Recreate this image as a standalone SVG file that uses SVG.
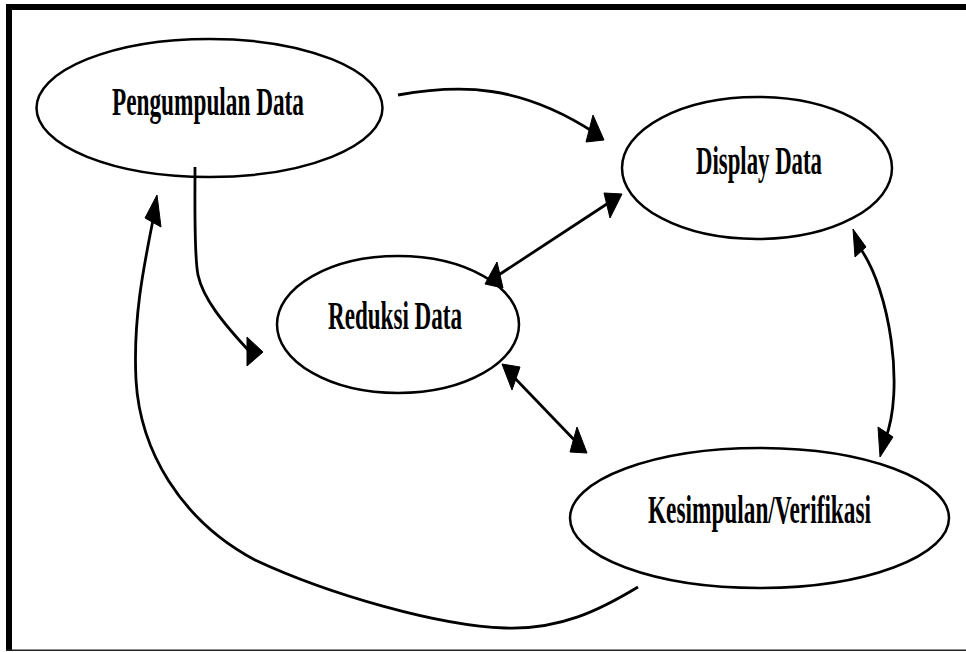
<svg xmlns="http://www.w3.org/2000/svg" width="966" height="652" viewBox="0 0 966 652">
<style>
.node ellipse{fill:#fff;stroke:#000;stroke-width:2.5}
.node text{font-family:"Liberation Serif","Times New Roman",serif;font-weight:bold;font-size:23px;fill:#000}
.conn path{fill:none;stroke:#000;stroke-width:2.8;stroke-linecap:butt}
.conn polygon{fill:#000;stroke:#000;stroke-width:1;stroke-linejoin:miter}
</style>
<rect x="0" y="0" width="966" height="652" fill="#fff"/>
<g id="frame">
<rect x="6" y="4" width="960" height="6" fill="#000"/>
<rect x="6" y="4" width="6" height="647" fill="#000"/>
<line x1="6" y1="650.3" x2="966" y2="650.3" stroke="#222" stroke-width="1.6"/>
</g>
<g id="pengumpulan" class="node">
<ellipse cx="209.5" cy="108" rx="173" ry="69"/>
<text transform="translate(112,115) scale(1,1.7)" x="0" y="0" textLength="192" lengthAdjust="spacingAndGlyphs">Pengumpulan Data</text>
</g>
<g id="display" class="node">
<ellipse cx="757" cy="168" rx="135" ry="71"/>
<text transform="translate(696,174) scale(1,1.7)" x="0" y="0" textLength="126" lengthAdjust="spacingAndGlyphs">Display Data</text>
</g>
<g id="reduksi" class="node">
<ellipse cx="398" cy="324.5" rx="121" ry="68.5"/>
<text transform="translate(328,329) scale(1,1.7)" x="0" y="0" textLength="134" lengthAdjust="spacingAndGlyphs">Reduksi Data</text>
</g>
<g id="kesimpulan" class="node">
<ellipse cx="759.5" cy="518" rx="189.5" ry="70"/>
<text transform="translate(648,523) scale(1,1.7)" x="0" y="0" textLength="223" lengthAdjust="spacingAndGlyphs">Kesimpulan/Verifikasi</text>
</g>
<g id="connectors" class="conn">
<path d="M398,95 C460,84 520,84 595,133"/>
<polygon points="593,115 586,142 604,140"/>
<path d="M195,167 C195,210 194,255 198,275 C203,298 222,322 250,352"/>
<polygon points="247,337 247,366 263,352"/>
<path d="M491,280 L616,198"/>
<polygon points="604,193 610,218 622,194"/>
<polygon points="497,262 485,284 503,288"/>
<path d="M507,370 L581,447"/>
<polygon points="502,364 520,367 512,390"/>
<polygon points="577,427 570,452 587,453"/>
<path d="M860,248 C890,290 905,390 885,440"/>
<polygon points="853,229 855,257 866,247"/>
<polygon points="878,427 893,437 880,457"/>
<path d="M638,587 C600,610 560,630 505,628 C440,626 330,595 255,560 C180,520 140,450 136,380 C133,320 143,270 153,220"/>
<polygon points="157,195 145,218 161,227"/>
</g>
</svg>
